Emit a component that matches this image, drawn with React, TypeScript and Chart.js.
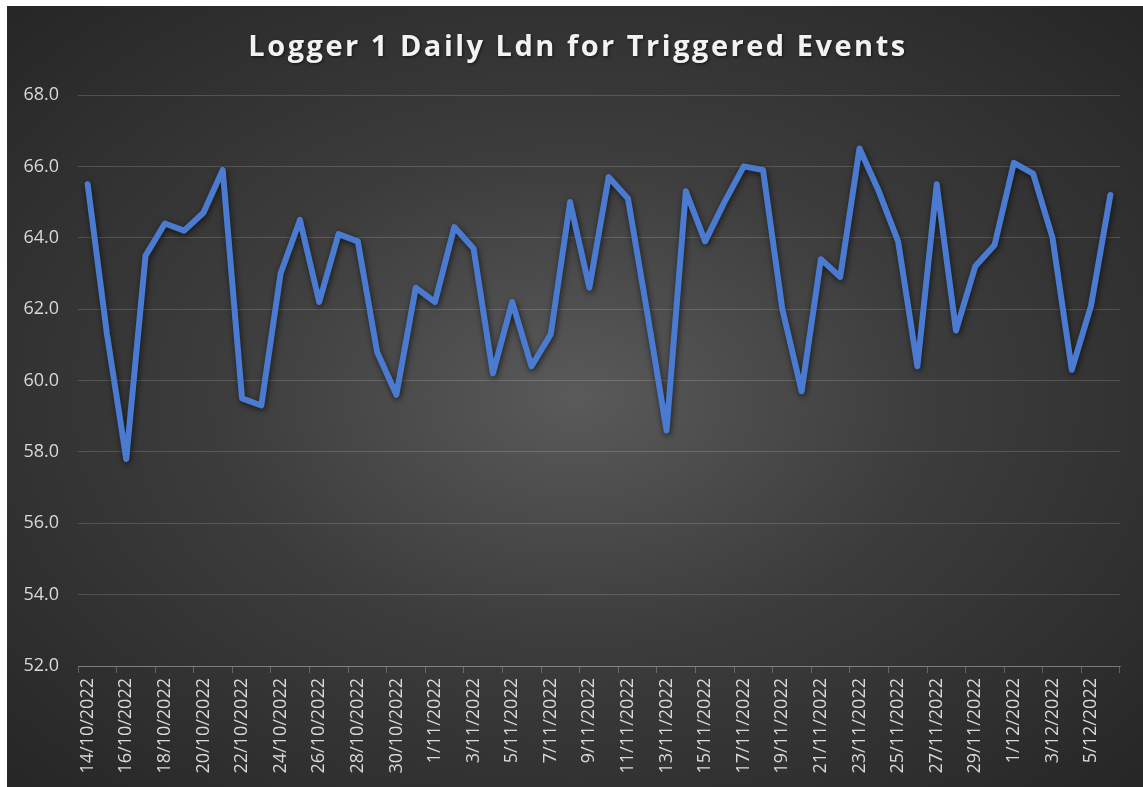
import React, { useEffect, useRef } from 'react';
import { Chart, registerables } from 'chart.js';

Chart.register(...registerables);

const TITLE = 'Logger 1 Daily Ldn for Triggered Events';

const dates: string[] = [
  '14/10/2022', '15/10/2022', '16/10/2022', '17/10/2022', '18/10/2022', '19/10/2022',
  '20/10/2022', '21/10/2022', '22/10/2022', '23/10/2022', '24/10/2022', '25/10/2022',
  '26/10/2022', '27/10/2022', '28/10/2022', '29/10/2022', '30/10/2022', '31/10/2022',
  '1/11/2022', '2/11/2022', '3/11/2022', '4/11/2022', '5/11/2022', '6/11/2022',
  '7/11/2022', '8/11/2022', '9/11/2022', '10/11/2022', '11/11/2022', '12/11/2022',
  '13/11/2022', '14/11/2022', '15/11/2022', '16/11/2022', '17/11/2022', '18/11/2022',
  '19/11/2022', '20/11/2022', '21/11/2022', '22/11/2022', '23/11/2022', '24/11/2022',
  '25/11/2022', '26/11/2022', '27/11/2022', '28/11/2022', '29/11/2022', '30/11/2022',
  '1/12/2022', '2/12/2022', '3/12/2022', '4/12/2022', '5/12/2022', '6/12/2022',
];

const ldn: number[] = [
  65.5, 61.3, 57.8, 63.5, 64.4, 64.2, 64.7, 65.9, 59.5, 59.3,
  63.0, 64.5, 62.2, 64.1, 63.9, 60.8, 59.6, 62.6, 62.2, 64.3,
  63.7, 60.2, 62.2, 60.4, 61.3, 65.0, 62.6, 65.7, 65.1, 61.9,
  58.6, 65.3, 63.9, 65.0, 66.0, 65.9, 62.0, 59.7, 63.4, 62.9,
  66.5, 65.3, 63.9, 60.4, 65.5, 61.4, 63.2, 63.8, 66.1, 65.8,
  64.0, 60.3, 62.1, 65.2,
];

const yMin = 52;
const yMax = 68;
const yStep = 2;

const FONT = '"Open Sans", "DejaVu Sans", sans-serif';

const titlePlugin = {
  id: 'customTitle',
  afterDraw(chart: any) {
    const ctx = chart.ctx as CanvasRenderingContext2D;
    ctx.save();
    ctx.font = `bold 29px ${FONT}`;
    (ctx as any).letterSpacing = '2.5px';
    ctx.fillStyle = '#f2f2f2';
    ctx.textAlign = 'center';
    ctx.textBaseline = 'alphabetic';
    ctx.shadowColor = 'rgba(0,0,0,0.6)';
    ctx.shadowBlur = 3;
    ctx.shadowOffsetX = 1;
    ctx.shadowOffsetY = 1;
    ctx.fillText(TITLE, chart.width / 2 + 3, 50);
    ctx.restore();
  },
};

const shadowPlugin = {
  id: 'lineShadow',
  beforeDatasetDraw(chart: any) {
    const ctx = chart.ctx as CanvasRenderingContext2D;
    ctx.save();
    ctx.shadowColor = 'rgba(0,0,0,0.65)';
    ctx.shadowBlur = 6;
    ctx.shadowOffsetX = 1;
    ctx.shadowOffsetY = 2;
  },
  afterDatasetDraw(chart: any) {
    chart.ctx.restore();
  },
};

export default function App() {
  const canvasRef = useRef<HTMLCanvasElement | null>(null);

  useEffect(() => {
    if (!canvasRef.current) return;
    const chart = new Chart(canvasRef.current, {
      type: 'line',
      data: {
        labels: dates,
        datasets: [
          {
            label: 'Ldn',
            data: ldn,
            borderColor: '#4a7bd0',
            backgroundColor: '#4a7bd0',
            borderWidth: 6,
            pointRadius: 0,
            pointHoverRadius: 0,
            tension: 0,
            borderJoinStyle: 'round',
            borderCapStyle: 'round',
            fill: false,
          },
        ],
      },
      options: {
        responsive: false,
        animation: false,
        events: [],
        layout: { padding: { left: 0, right: 23, top: 89, bottom: 0 } },
        plugins: {
          legend: { display: false },
          tooltip: { enabled: false },
          title: { display: false },
        },
        scales: {
          x: {
            type: 'category',
            offset: true,
            afterFit: (scale: any) => {
              scale.height = 121;
            },
            grid: {
              display: true,
              offset: true,
              drawOnChartArea: false,
              drawTicks: true,
              tickLength: 7,
              color: (ctx: any) =>
                ctx.index === undefined || ctx.index % 2 === 0
                  ? 'rgba(255,255,255,0.25)'
                  : 'rgba(0,0,0,0)',
            },
            border: { display: true, color: 'rgba(255,255,255,0.25)', width: 1 },
            ticks: {
              autoSkip: false,
              maxRotation: 90,
              minRotation: 90,
              padding: 5,
              color: '#d9d9d9',
              font: { family: FONT, size: 18 },
              callback: (_v: any, i: number) => (i % 2 === 0 ? dates[i] : ''),
            },
          },
          y: {
            min: yMin,
            max: yMax,
            afterFit: (scale: any) => {
              scale.width = 71;
            },
            grid: {
              color: 'rgba(255,255,255,0.16)',
              drawTicks: false,
              lineWidth: 1,
            },
            border: { display: false },
            ticks: {
              stepSize: yStep,
              padding: 19,
              color: '#d9d9d9',
              font: { family: FONT, size: 18 },
              callback: (v: any) => Number(v).toFixed(1),
            },
          },
        },
      },
      plugins: [shadowPlugin, titlePlugin],
    } as any);
    return () => chart.destroy();
  }, []);

  return (
    <div
      style={{
        position: 'absolute',
        left: 7,
        top: 6,
        width: 1136,
        height: 781,
        background:
          'radial-gradient(ellipse farthest-corner at 50% 50%, #5a5a5a 0%, #3c3c3c 45%, #262626 100%)',
      }}
    >
      <canvas ref={canvasRef} width={1136} height={781} style={{ display: 'block' }} />
    </div>
  );
}
